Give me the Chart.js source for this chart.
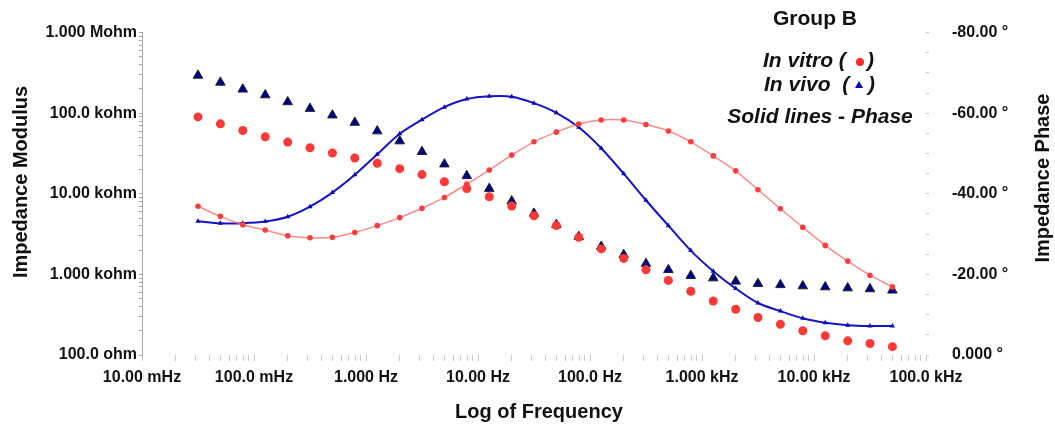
<!DOCTYPE html>
<html lang="en">
<head>
  <meta charset="UTF-8">
  <title>Group B impedance</title>
  <script src="https://cdn.jsdelivr.net/npm/chart.js"></script>
  <style>
    body {
      margin: 0;
      background: #fff;
    }
    .wrap {
      width: 1055px;
      height: 425px;
    }
  </style>
</head>
<body>
  <div class="wrap"><canvas id="bode" width="1055" height="425"></canvas></div>
  <script>
  // frequencies (Hz), 5 points per decade
  const freq = [0.0316, 0.0501, 0.0794, 0.126, 0.2, 0.316, 0.501, 0.794, 1.26, 2.0, 3.16, 5.01, 7.94, 12.6, 20.0, 31.6,
    50.1, 79.4, 126, 200, 316, 501, 794, 1260, 2000, 3160, 5010, 7940, 12600, 20000, 31600, 50100];

  // impedance modulus (ohm)
  const vitroModulus = [90000, 73800, 61100, 50900, 43800, 37300, 32100, 27800, 23900, 20500, 17300, 14100, 11600, 9180, 7050, 5350,
    4030, 2890, 2070, 1580, 1140, 843, 617, 468, 370, 292, 240, 200, 173, 150, 139, 127];
  const vivoModulus = [294000, 241000, 198000, 168000, 138000, 114000, 94500, 76700, 60000, 45100, 33300, 23300, 16700, 11600, 8120, 5710,
    4140, 2940, 2220, 1750, 1360, 1140, 964, 900, 820, 768, 742, 717, 697, 677, 659, 635];

  // impedance phase (degrees)
  const vitroPhase = [-36.9, -34.4, -32.3, -31.0, -29.6, -29.1, -29.2, -30.4, -32.1, -34.1, -36.4, -39.1, -42.4, -45.9, -49.6, -52.9,
    -55.3, -57.3, -58.3, -58.3, -57.2, -55.6, -52.9, -49.4, -45.7, -41.0, -36.3, -31.7, -27.2, -23.3, -19.8, -16.9];
  const vivoPhase = [-33.2, -32.7, -32.7, -33.1, -34.3, -36.8, -40.3, -44.7, -49.8, -54.9, -58.4, -61.5, -63.5, -64.2, -64.1, -62.5,
    -60.1, -56.5, -51.3, -45.0, -38.4, -32.1, -25.9, -20.8, -16.5, -12.9, -10.9, -9.1, -8.0, -7.4, -7.2, -7.2];

  // axis ticks
  const xDecades = [0.01, 0.1, 1, 10, 100, 1000, 10000, 100000];
  const xTickLabels = ['10.00 mHz', '100.0 mHz', '1.000 Hz', '10.00 Hz', '100.0 Hz', '1.000 kHz', '10.00 kHz', '100.0 kHz'];
  const yDecades = [100, 1000, 10000, 100000, 1000000];
  const yTickLabels = ['100.0 ohm', '1.000 kohm', '10.00 kohm', '100.0 kohm', '1.000 Mohm'];
  const phaseTicks = [-80, -60, -40, -20, 0];
  const phaseTickLabels = ['-80.00 °', '-60.00 °', '-40.00 °', '-20.00 °', '0.000 °'];

  const xTitle = 'Log of Frequency';
  const yTitle = 'Impedance Modulus';
  const y2Title = 'Impedance Phase';

  const FONT = '"Liberation Sans", Arial, sans-serif';
  const TXT = '#111';

  function pts(vals) {
    return freq.map((f, i) => ({ x: f, y: vals[i] }));
  }

  // every 1..9 x 10^n between the decades
  function logMinor(decades) {
    const out = [];
    for (let i = 0; i < decades.length - 1; i++) {
      for (let m = 1; m < 10; m++) out.push({ value: decades[i] * m });
    }
    out.push({ value: decades[decades.length - 1] });
    return out;
  }

  function labelFor(value, decades, labels) {
    const i = decades.findIndex(d => Math.abs(d - value) / d < 1e-6);
    return i >= 0 ? labels[i] : '';
  }

  // titles and the little legend are plain canvas text
  const overlayText = {
    id: 'overlayText',
    afterDraw(chart) {
      const ctx = chart.ctx;
      ctx.save();
      ctx.fillStyle = TXT;
      ctx.textBaseline = 'middle';
      ctx.textAlign = 'center';
      ctx.font = 'bold 20px ' + FONT;

      ctx.save();
      ctx.translate(21, 182);
      ctx.rotate(-Math.PI / 2);
      ctx.fillText(yTitle, 0, 0);
      ctx.restore();

      ctx.save();
      ctx.translate(1043, 178);
      ctx.rotate(-Math.PI / 2);
      ctx.fillText(y2Title, 0, 0);
      ctx.restore();

      ctx.fillText(xTitle, 539, 412);

      ctx.font = 'bold 21px ' + FONT;
      ctx.fillText('Group B', 815, 19);

      ctx.font = 'italic bold 21px ' + FONT;
      ctx.textAlign = 'left';
      ctx.fillText('In vitro (', 763, 61);
      ctx.fillText(')', 867, 61);
      ctx.fillText('In vivo  (', 764, 85);
      ctx.fillText(')', 868, 85);
      ctx.textAlign = 'center';
      ctx.fillText('Solid lines - Phase', 820, 117);

      // legend markers
      ctx.fillStyle = '#ff2a2a';
      ctx.beginPath();
      ctx.arc(860, 62, 4, 0, Math.PI * 2);
      ctx.fill();
      ctx.fillStyle = '#0000c0';
      ctx.beginPath();
      ctx.moveTo(859, 81);
      ctx.lineTo(863, 88);
      ctx.lineTo(855, 88);
      ctx.closePath();
      ctx.fill();
      ctx.restore();
    }
  };

  new Chart(document.getElementById('bode'), {
    type: 'line',
    data: {
      datasets: [
        {
          label: 'In vitro phase',
          data: pts(vitroPhase),
          yAxisID: 'y2',
          borderColor: 'rgba(255, 110, 110, 0.8)',
          borderWidth: 1.5,
          tension: 0.3,
          pointStyle: 'circle',
          pointRadius: 2.8,
          pointBackgroundColor: '#ff3d3d',
          pointBorderWidth: 0
        },
        {
          label: 'In vivo phase',
          data: pts(vivoPhase),
          yAxisID: 'y2',
          borderColor: '#1414c4',
          borderWidth: 2,
          tension: 0.3,
          pointStyle: 'triangle',
          pointRadius: 3,
          pointBackgroundColor: '#0a0ab0',
          pointBorderWidth: 0
        },
        {
          label: 'In vitro modulus',
          data: pts(vitroModulus),
          yAxisID: 'y',
          showLine: false,
          pointStyle: 'circle',
          pointRadius: 4.5,
          pointBackgroundColor: '#ff3838',
          pointBorderWidth: 0
        },
        {
          label: 'In vivo modulus',
          data: pts(vivoModulus),
          yAxisID: 'y',
          showLine: false,
          pointStyle: 'triangle',
          pointRadius: 5.5,
          pointBackgroundColor: '#00008a',
          pointBorderColor: '#222',
          pointBorderWidth: 1
        }
      ]
    },
    options: {
      responsive: false,
      animation: false,
      layout: { padding: { top: 31, left: 0, right: 0, bottom: 0 } },
      plugins: {
        legend: { display: false },
        tooltip: { enabled: false }
      },
      scales: {
        x: {
          type: 'logarithmic',
          min: 0.01,
          max: 100000,
          afterBuildTicks: s => { s.ticks = logMinor(xDecades); },
          afterFit: s => { s.height = 70; },
          border: { display: false },
          grid: { drawOnChartArea: false, drawTicks: true, tickLength: 6, tickColor: '#c8c8c8' },
          ticks: {
            autoSkip: false,
            maxRotation: 0,
            padding: 7,
            color: TXT,
            font: { family: FONT, size: 16, weight: 'bold' },
            callback: v => labelFor(v, xDecades, xTickLabels)
          }
        },
        y: {
          type: 'logarithmic',
          position: 'left',
          min: 100,
          max: 1000000,
          afterBuildTicks: s => { s.ticks = logMinor(yDecades); },
          afterFit: s => { s.width = 142; },
          border: { display: true, color: '#a8a8a8' },
          grid: { drawOnChartArea: false, drawTicks: true, tickLength: 3, tickColor: '#a8a8a8' },
          ticks: {
            autoSkip: false,
            padding: 2,
            color: TXT,
            font: { family: FONT, size: 16, weight: 'bold' },
            callback: v => labelFor(v, yDecades, yTickLabels)
          }
        },
        y2: {
          type: 'linear',
          position: 'right',
          min: -80,
          max: 0,
          reverse: true,
          afterFit: s => { s.width = 129; },
          border: { display: false },
          grid: { drawOnChartArea: false, drawTicks: true, tickLength: 3, tickColor: '#c8c8c8' },
          ticks: {
            stepSize: 5,
            autoSkip: false,
            padding: 23,
            color: TXT,
            font: { family: FONT, size: 16, weight: 'bold' },
            callback: v => {
              const i = phaseTicks.indexOf(v);
              return i >= 0 ? phaseTickLabels[i] : '';
            }
          }
        }
      }
    },
    plugins: [overlayText]
  });
  </script>
</body>
</html>
